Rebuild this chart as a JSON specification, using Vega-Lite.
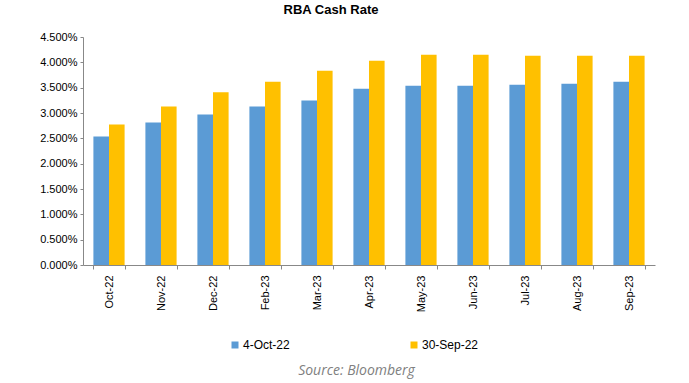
{
  "$schema": "https://vega.github.io/schema/vega-lite/v6.json",
  "width": 572,
  "height": 228,
  "autosize": {"type": "none"},
  "padding": {"left": 83, "top": 37, "right": 34, "bottom": 118},
  "background": "white",
  "title": {"text": "RBA Cash Rate", "font": "Liberation Sans", "fontSize": 13, "fontWeight": "bold", "color": "#000000", "anchor": "middle", "dx": -38, "offset": 14},
  "data": {"values": [
    {"month": "Oct-22", "series": "4-Oct-22", "rate": 0.02535},
    {"month": "Oct-22", "series": "30-Sep-22", "rate": 0.02772},
    {"month": "Nov-22", "series": "4-Oct-22", "rate": 0.02811},
    {"month": "Nov-22", "series": "30-Sep-22", "rate": 0.03127},
    {"month": "Dec-22", "series": "4-Oct-22", "rate": 0.02969},
    {"month": "Dec-22", "series": "30-Sep-22", "rate": 0.03409},
    {"month": "Feb-23", "series": "4-Oct-22", "rate": 0.03127},
    {"month": "Feb-23", "series": "30-Sep-22", "rate": 0.03619},
    {"month": "Mar-23", "series": "4-Oct-22", "rate": 0.03245},
    {"month": "Mar-23", "series": "30-Sep-22", "rate": 0.03836},
    {"month": "Apr-23", "series": "4-Oct-22", "rate": 0.03481},
    {"month": "Apr-23", "series": "30-Sep-22", "rate": 0.04033},
    {"month": "May-23", "series": "4-Oct-22", "rate": 0.03540},
    {"month": "May-23", "series": "30-Sep-22", "rate": 0.04151},
    {"month": "Jun-23", "series": "4-Oct-22", "rate": 0.03540},
    {"month": "Jun-23", "series": "30-Sep-22", "rate": 0.04151},
    {"month": "Jul-23", "series": "4-Oct-22", "rate": 0.03560},
    {"month": "Jul-23", "series": "30-Sep-22", "rate": 0.04131},
    {"month": "Aug-23", "series": "4-Oct-22", "rate": 0.03579},
    {"month": "Aug-23", "series": "30-Sep-22", "rate": 0.04131},
    {"month": "Sep-23", "series": "4-Oct-22", "rate": 0.03619},
    {"month": "Sep-23", "series": "30-Sep-22", "rate": 0.04131}
  ]},
  "mark": {"type": "bar"},
  "encoding": {
    "x": {
      "field": "month", "type": "nominal", "sort": null,
      "scale": {"paddingInner": 0.4, "paddingOuter": 0.2},
      "axis": {
        "title": "Source: Bloomberg",
        "titleFont": "Open Sans", "titleFontStyle": "italic", "titleFontWeight": "normal",
        "titleFontSize": 14, "titleColor": "#808080",
        "titleX": 273, "titleY": 105, "titleBaseline": "middle",
        "labelAngle": -90, "labelFont": "Liberation Sans", "labelFontSize": 11, "labelColor": "#000000",
        "labelPadding": 6,
        "domainColor": "#888888", "tickColor": "#888888", "tickSize": 4, "tickBand": "extent",
        "grid": false
      }
    },
    "xOffset": {"field": "series", "type": "nominal", "sort": ["4-Oct-22", "30-Sep-22"]},
    "y": {
      "field": "rate", "type": "quantitative",
      "scale": {"domain": [0, 0.045], "nice": false},
      "axis": {
        "title": null, "format": ".3%", "values": [0, 0.005, 0.01, 0.015, 0.02, 0.025, 0.03, 0.035, 0.04, 0.045],
        "labelOverlap": false, "labelFlush": false,
        "labelFont": "Liberation Sans", "labelFontSize": 11, "labelColor": "#000000",
        "domainColor": "#888888", "tickColor": "#888888", "tickSize": 3, "labelPadding": 3,
        "grid": false
      }
    },
    "color": {
      "field": "series", "type": "nominal",
      "sort": ["4-Oct-22", "30-Sep-22"],
      "scale": {"domain": ["4-Oct-22", "30-Sep-22"], "range": ["#5B9BD5", "#FFC000"]},
      "legend": {
        "title": null, "orient": "none", "direction": "horizontal",
        "legendX": 146, "legendY": 302,
        "symbolType": "square", "symbolSize": 49, "symbolStrokeWidth": 0,
        "labelFont": "Liberation Sans", "labelFontSize": 12, "labelColor": "#000000",
        "labelOffset": 2, "columnPadding": 118, "labelLimit": 200
      }
    }
  },
  "config": {"view": {"stroke": null}}
}
